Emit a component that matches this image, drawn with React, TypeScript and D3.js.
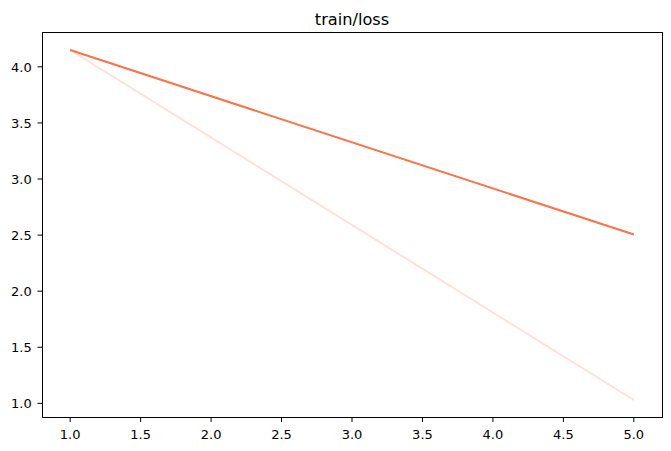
import React from "react";
import * as d3 from "d3";

const steps = [1, 5];
const smoothLoss = [4.15, 2.505];
const rawLoss = [4.15, 1.03];
const xTicks = [1.0, 1.5, 2.0, 2.5, 3.0, 3.5, 4.0, 4.5, 5.0];
const yTicks = [1.0, 1.5, 2.0, 2.5, 3.0, 3.5, 4.0];

const App = () => {
  const width = 671;
  const height = 451;
  const margin = { top: 32.5, right: 9, bottom: 33.5, left: 42 };
  const lineColor = "#ff7043";

  const x = d3.scaleLinear().domain([0.8, 5.2]).range([margin.left, width - margin.right]);
  const y = d3.scaleLinear().domain([0.874, 4.306]).range([height - margin.bottom, margin.top]);

  const line = d3
    .line<number>()
    .x((d, i) => x(steps[i]))
    .y((d) => y(d));

  const font = "'DejaVu Sans', sans-serif";

  return (
    <svg
      width={width}
      height={height}
      style={{ position: "absolute", left: 0, top: 0, background: "#fff" }}
    >
      <path d={line(rawLoss) || ""} fill="none" stroke={lineColor} strokeOpacity={0.22} strokeWidth={2} />
      <path d={line(smoothLoss) || ""} fill="none" stroke={lineColor} strokeWidth={2} />

      <rect
        x={margin.left}
        y={margin.top}
        width={width - margin.left - margin.right}
        height={height - margin.top - margin.bottom}
        fill="none"
        stroke="#000"
        strokeWidth={1}
        shapeRendering="crispEdges"
      />

      {xTicks.map((t) => (
        <g key={"x" + t}>
          <line
            x1={x(t)}
            x2={x(t)}
            y1={height - margin.bottom}
            y2={height - margin.bottom + 4.5}
            stroke="#000"
            strokeWidth={1}
          />
          <text
            x={x(t)}
            y={height - margin.bottom + 21}
            textAnchor="middle"
            fontFamily={font}
            fontSize={13}
            fill="#000"
          >
            {t.toFixed(1)}
          </text>
        </g>
      ))}

      {yTicks.map((t) => (
        <g key={"y" + t}>
          <line
            x1={margin.left - 4.5}
            x2={margin.left}
            y1={y(t)}
            y2={y(t)}
            stroke="#000"
            strokeWidth={1}
          />
          <text
            x={margin.left - 10.3}
            y={y(t)}
            dy="0.36em"
            textAnchor="end"
            fontFamily={font}
            fontSize={13}
            fill="#000"
          >
            {t.toFixed(1)}
          </text>
        </g>
      ))}

      <text
        x={(margin.left + width - margin.right) / 2}
        y={margin.top - 7.5}
        textAnchor="middle"
        fontFamily={font}
        fontSize={16.2}
        fill="#000"
      >
        train/loss
      </text>
    </svg>
  );
};

export default App;
